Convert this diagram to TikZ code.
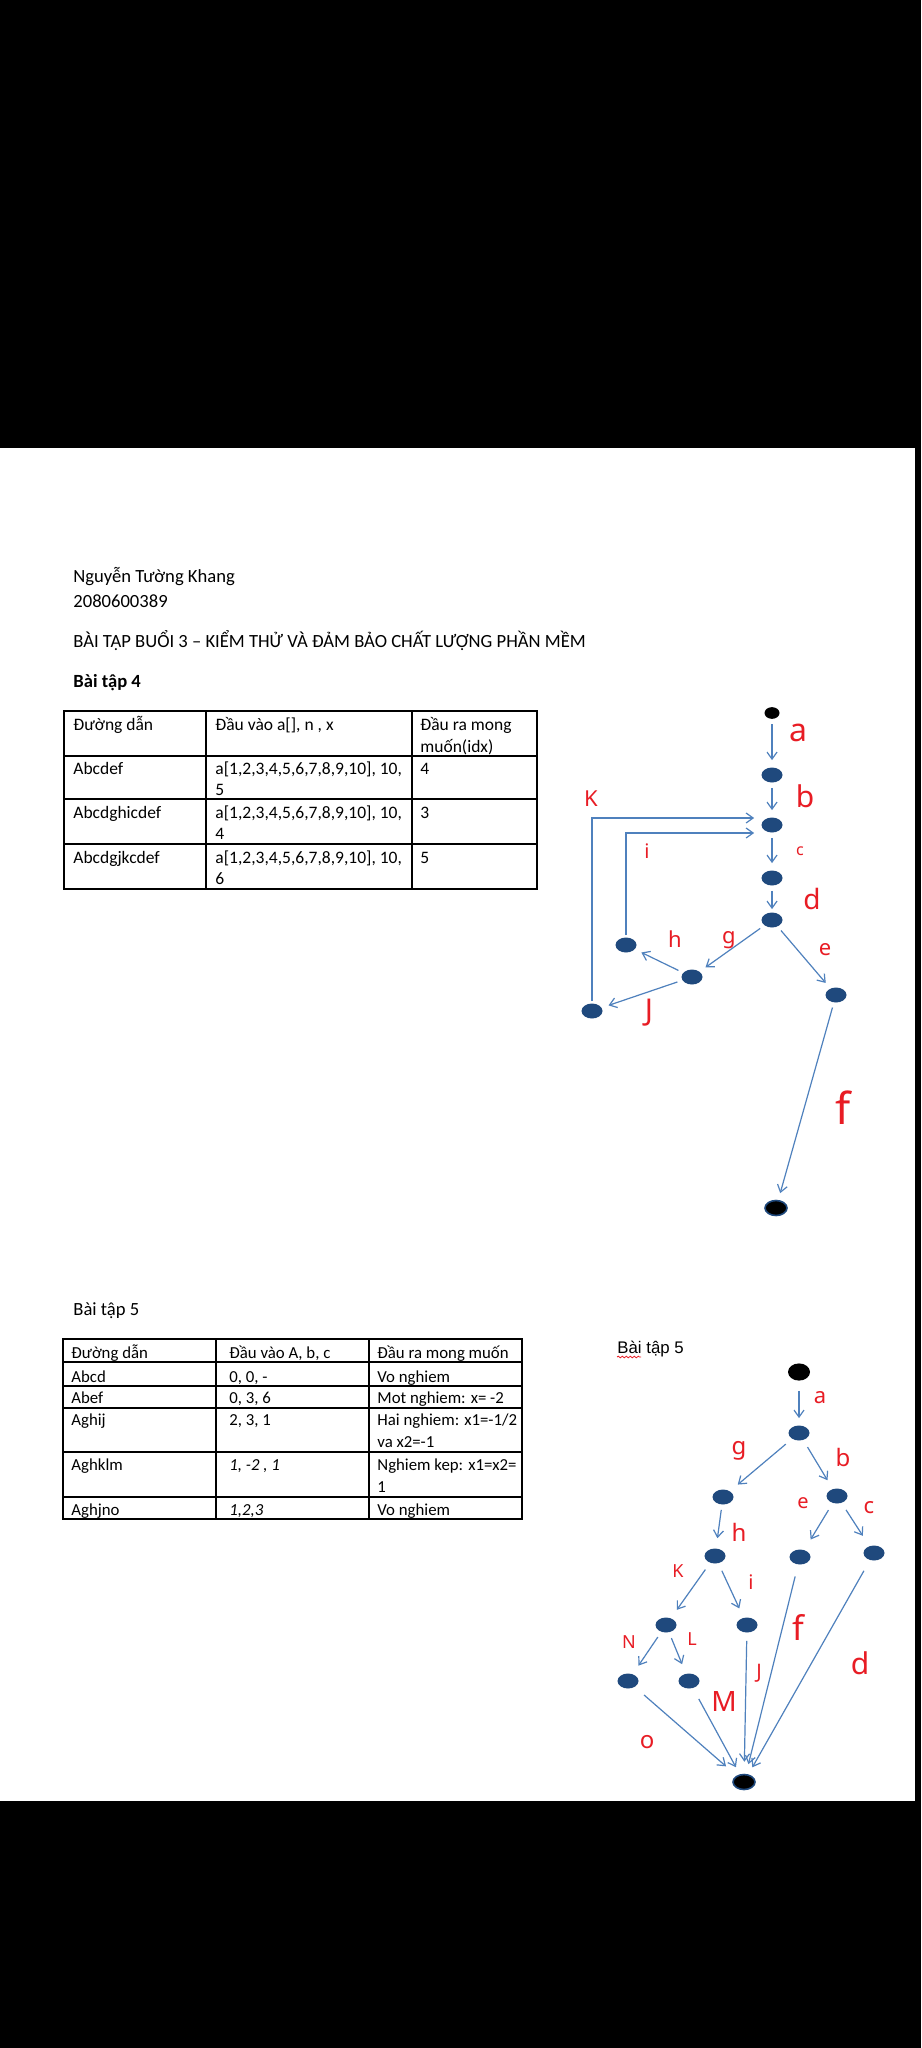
\documentclass[tikz,border=0pt]{standalone}
\usepackage{fontspec}
\setmainfont{Carlito}
\newfontfamily\arialfont{Liberation Sans}
\newfontfamily\handfont{Noto Sans}
\usetikzlibrary{arrows.meta,shapes.geometric,decorations.pathmorphing}
\definecolor{nodeblue}{RGB}{31,73,125}
\definecolor{linkblue}{RGB}{79,129,189}
\definecolor{penred}{RGB}{232,28,36}
\newcommand\bodysize{\fontsize{9.3pt}{11pt}\selectfont}
\newcommand\tabsize{\fontsize{8.75pt}{10.5pt}\selectfont}
\newcommand\tabsmall{\fontsize{8.4pt}{10pt}\selectfont}
\tikzset{
  vtx/.style={ellipse, fill=nodeblue, minimum width=10.5pt, minimum height=7.5pt, inner sep=0pt},
  startvtx/.style={ellipse, fill=black, minimum width=#1, minimum height=0.78*#1, inner sep=0pt},
  endvtx/.style={ellipse, fill=black, draw=nodeblue, line width=0.8pt, minimum width=11pt, minimum height=7.5pt, inner sep=0pt},
  link/.style={linkblue, line width=0.6pt, -{Straight Barb[length=3.5pt,width=5pt]}, shorten <=2.5pt, shorten >=3.5pt},
  penlbl/.style={penred, inner sep=0pt, font=\handfont\fontsize{#1}{#1}\selectfont},
  penlbl/.default=12pt,
  cell/.style={anchor=base west, inner sep=0pt, font=\tabsize},
  cellb/.style={anchor=base west, inner sep=0pt, font=\tabsmall},
  line/.style={anchor=base west, inner sep=0pt, font=\bodysize},
  grid/.style={line width=0.7pt},
}
\begin{document}
\begin{tikzpicture}[x=0.5pt, y=-0.5pt]
  % Page: black screen round a white sheet
  \fill[black] (0,0) rectangle (921,2048);
  \fill[white] (0,448) rectangle (915,1801);

  % Heading
  \node[line] (name) at (73,582) {Nguyễn Tường Khang};
  \node[line] (sid) at (73,607) {2080600389};
  \node[line] (title) at (73,647) {BÀI TẬP BUỔI 3 – KIỂM THỬ VÀ ĐẢM BẢO CHẤT LƯỢNG PHẦN MỀM};
  \node[line, font=\bodysize\bfseries] (ex4) at (73,687) {Bài tập 4};

  % Table of exercise 4
  \draw[grid] (64,711) rectangle (537,889);
  \draw[grid] (64,756) -- (537,756);
  \draw[grid] (64,799) -- (537,799);
  \draw[grid] (64,844) -- (537,844);
  \draw[grid] (206,711) -- (206,889);
  \draw[grid] (412,711) -- (412,889);
  \node[cell] (t4h1) at (73,730) {Đường dẫn};
  \node[cell] (t4h2) at (215,730) {Đầu vào a[], n , x};
  \node[cell] (t4h3) at (420,730) {Đầu ra mong};
  \node[cell] (t4h3b) at (420,752) {muốn(idx)};
  \node[cell] (t4r1) at (73,774) {Abcdef};
  \node[cell] (t4r1b) at (215,774) {a[1,2,3,4,5,6,7,8,9,10], 10,};
  \node[cell] (t4r1c) at (215,795) {5};
  \node[cell] (t4r1d) at (420,774) {4};
  \node[cell] (t4r2) at (73,818) {Abcdghicdef};
  \node[cell] (t4r2b) at (215,818) {a[1,2,3,4,5,6,7,8,9,10], 10,};
  \node[cell] (t4r2c) at (215,839) {4};
  \node[cell] (t4r2d) at (420,818) {3};
  \node[cell] (t4r3) at (73,863) {Abcdgjkcdef};
  \node[cell] (t4r3b) at (215,863) {a[1,2,3,4,5,6,7,8,9,10], 10,};
  \node[cell] (t4r3c) at (215,884) {6};
  \node[cell] (t4r3d) at (420,863) {5};

  % Flow graph of exercise 4
  \node[startvtx=7.5pt] (A0) at (772,713) {};
  \node[vtx] (A1) at (772,775) {};
  \node[vtx] (A2) at (772,825) {};
  \node[vtx] (A3) at (772,878) {};
  \node[vtx] (A4) at (772,920) {};
  \node[vtx] (A5) at (836,995) {};
  \node[vtx] (A6) at (692,977) {};
  \node[vtx] (A7) at (626,945) {};
  \node[vtx] (A8) at (592,1011) {};
  \node[endvtx] (A9) at (776,1208) {};
  \draw[link] (A0) -- (A1);
  \draw[link] (A1) -- (A2);
  \draw[link] (A2) -- (A3);
  \draw[link, shorten >=1.5pt] (A3) -- (A4);
  \draw[link] (A4) -- (A6);
  \draw[link] (A4) -- (A5);
  \draw[link] (A6) -- (A7);
  \draw[link] (A6) -- (A8);
  \draw[link] (A5) -- (A9);
  % loops back to the third node
  \draw[link, shorten <=1pt] (A8.north) |- ([yshift=3.5pt]A2.west);
  \draw[link, shorten <=1pt] (A7.north) |- ([yshift=-4pt]A2.west);
  % edge names
  \node[penlbl=16pt] (la) at (798,733) {a};
  \node[penlbl=15pt] (lb) at (805,796) {b};
  \node[penlbl=8pt] (lc) at (800,851) {c};
  \node[penlbl=14pt] (ld) at (812,899) {d};
  \node[penlbl=11pt] (le) at (825,950) {e};
  \node[penlbl=22pt] (lf) at (843,1108) {f};
  \node[penlbl=11pt] (lg) at (729,940) {g};
  \node[penlbl=11pt] (lh) at (675,939) {h};
  \node[penlbl=10pt] (li) at (647,851) {i};
  \node[penlbl=15pt] (lj) at (649,1013) {J};
  \node[penlbl=11pt] (lk) at (591,799) {K};

  % Exercise 5
  \node[line] (ex5) at (73,1315) {Bài tập 5};

  % Table of exercise 5
  \draw[grid] (63,1339) rectangle (522,1519);
  \draw[grid] (63,1362) -- (522,1362);
  \draw[grid] (63,1386) -- (522,1386);
  \draw[grid] (63,1408) -- (522,1408);
  \draw[grid] (63,1452) -- (522,1452);
  \draw[grid] (63,1497) -- (522,1497);
  \draw[grid] (216,1339) -- (216,1519);
  \draw[grid] (369,1339) -- (369,1519);
  \node[cellb] (t5h1) at (71,1358) {Đường dẫn};
  \node[cellb] (t5h2) at (229,1358) {Đầu vào A, b, c};
  \node[cellb] (t5h3) at (377,1358) {Đầu ra mong muốn};
  \node[cellb] (t5r1) at (71,1382) {Abcd};
  \node[cellb] (t5r1b) at (229,1382) {0, 0, -};
  \node[cellb] (t5r1c) at (377,1382) {Vo nghiem};
  \node[cellb] (t5r2) at (71,1403) {Abef};
  \node[cellb] (t5r2b) at (229,1403) {0, 3, 6};
  \node[cellb] (t5r2c) at (377,1403) {Mot nghiem: x= -2};
  \node[cellb] (t5r3) at (71,1425) {Aghij};
  \node[cellb] (t5r3b) at (229,1425) {2, 3, 1};
  \node[cellb] (t5r3c) at (377,1425) {Hai nghiem: x1=-1/2};
  \node[cellb] (t5r3d) at (377,1447) {va x2=-1};
  \node[cellb] (t5r4) at (71,1470) {Aghklm};
  \node[cellb, font=\tabsmall\itshape] (t5r4b) at (229,1470) {1, -2 , 1};
  \node[cellb] (t5r4c) at (377,1470) {Nghiem kep: x1=x2=};
  \node[cellb] (t5r4d) at (377,1492) {1};
  \node[cellb] (t5r5) at (71,1515) {Aghjno};
  \node[cellb, font=\tabsmall\itshape] (t5r5b) at (229,1515) {1,2,3};
  \node[cellb] (t5r5c) at (377,1515) {Vo nghiem};

  % Flow graph of exercise 5
  \node[cell, font=\arialfont\fontsize{8.4pt}{10pt}\selectfont] (ex5b) at (617,1353) {Bài tập 5};
  \draw[penred, line width=0.4pt, decorate, decoration={snake, amplitude=0.4pt, segment length=2pt}]
    (ex5b.base west) ++(0,4) -- ++(24,0);
  \node[startvtx=11pt] (B0) at (799,1372) {};
  \node[vtx] (B1) at (799,1433) {};
  \node[vtx] (B2) at (723,1497) {};
  \node[vtx] (B3) at (837,1496) {};
  \node[vtx] (B4) at (715,1556) {};
  \node[vtx] (B5) at (800,1557) {};
  \node[vtx] (B6) at (874,1553) {};
  \node[vtx] (B7) at (666,1625) {};
  \node[vtx] (B8) at (747,1625) {};
  \node[vtx] (B9) at (628,1681) {};
  \node[vtx] (B10) at (689,1681) {};
  \node[endvtx] (B11) at (744,1782) {};
  \draw[link, shorten <=5pt] (B0) -- (B1);
  \draw[link, shorten <=4pt, shorten >=5pt] (B1) -- (B2);
  \draw[link, shorten <=4pt, shorten >=5pt] (B1) -- (B3);
  \draw[link, shorten >=5pt] (B2) -- (B4);
  \draw[link, shorten <=4pt, shorten >=6pt] (B3) -- (B5);
  \draw[link, shorten <=4pt, shorten >=6pt] (B3) -- (B6);
  \draw[link, shorten <=4pt, shorten >=5pt] (B4) -- (B7);
  \draw[link, shorten <=4pt, shorten >=5pt] (B4) -- (B8);
  \draw[link, shorten <=3pt, shorten >=5pt] (B7) -- (B9);
  \draw[link, shorten <=3pt, shorten >=5pt] (B7) -- (B10);
  \draw[link, shorten <=4pt, shorten >=6pt] (B8) -- (B11);
  \draw[link, shorten <=6pt, shorten >=5pt] (B5) -- (B11);
  \draw[link, shorten <=6pt, shorten >=4pt] (B6) -- (B11);
  \draw[link, shorten <=6pt, shorten >=7pt] (B9) -- (B11);
  \draw[link, shorten <=6pt, shorten >=4pt] (B10) -- (B11);
  % edge names
  \node[penlbl=11pt] (ma) at (820,1398) {a};
  \node[penlbl=12pt] (mb) at (843,1457) {b};
  \node[penlbl=11pt] (mc) at (869,1508) {c};
  \node[penlbl=15pt] (md) at (860,1663) {d};
  \node[penlbl=10pt] (me) at (803,1503) {e};
  \node[penlbl=17pt] (mf) at (798,1627) {f};
  \node[penlbl=12pt] (mg) at (739,1451) {g};
  \node[penlbl=12pt] (mh) at (739,1532) {h};
  \node[penlbl=10pt] (mi) at (751,1582) {i};
  \node[penlbl=10pt] (mj) at (759,1673) {J};
  \node[penlbl=9pt] (mk) at (678,1571) {K};
  \node[penlbl=9pt] (ml) at (692,1639) {L};
  \node[penlbl=14pt] (mm) at (724,1701) {M};
  \node[penlbl=9pt] (mn) at (629,1642) {N};
  \node[penlbl=12pt] (mo) at (647,1742) {o};
\end{tikzpicture}
\end{document}
